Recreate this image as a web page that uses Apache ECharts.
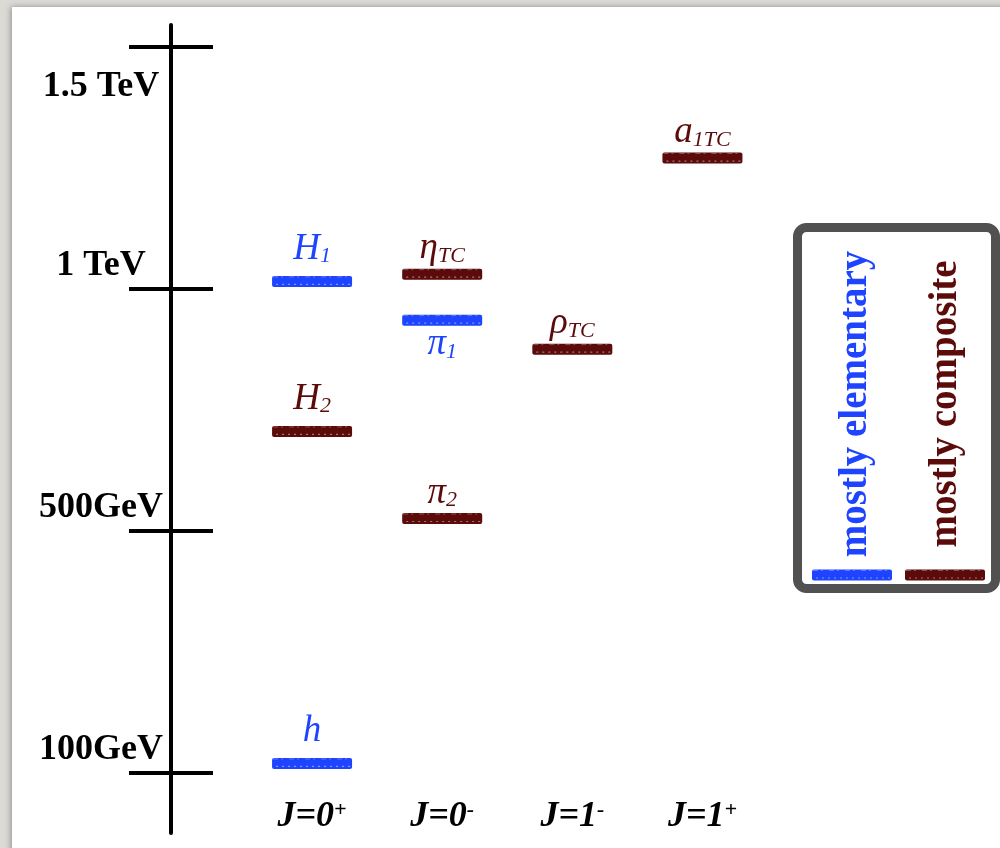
<!DOCTYPE html>
<html>
<head>
<meta charset="utf-8">
<script src="https://cdn.jsdelivr.net/npm/echarts@6/dist/echarts.min.js"></script>
<style>
html,body{margin:0;padding:0;background:#dbdad5;}
#c{width:1000px;height:848px;}
</style>
</head>
<body>
<div id="c"></div>
<script>
// ---- data ----
const categories = ['J=0+', 'J=0-', 'J=1-', 'J=1+'];
const tickMasses = [100, 500, 1000, 1500];            // GeV
const tickLabels = ['100GeV', '500GeV', '1 TeV', '1.5 TeV'];

const levelNames = ['h', 'H1', 'H2', 'ηTC', 'π1', 'π2', 'ρTC', 'a1TC'];
const levelMain  = ['h', 'H', 'H', 'η', 'π', 'π', 'ρ', 'a'];
const levelSub   = ['', '1', '2', 'TC', '1', '2', 'TC', '1TC'];
const levelSpin  = ['J=0+', 'J=0+', 'J=0+', 'J=0-', 'J=0-', 'J=0-', 'J=1-', 'J=1+'];
const levelMass  = [115, 1015, 705, 1030, 935, 525, 875, 1270];   // GeV
const levelKind  = ['elementary', 'elementary', 'composite', 'composite',
                    'elementary', 'composite', 'composite', 'composite'];

const legendKinds  = ['elementary', 'composite'];
const legendLabels = ['mostly elementary', 'mostly composite'];

// ---- styling ----
const FONT = '"Liberation Serif", "DejaVu Serif", serif';
const BLUE = '#1e44ff';
const RED = '#5c0b0b';
const kindColor = { elementary: BLUE, composite: RED };
const xHeightGlyphs = 'ηπρa';

// schematic (piecewise) mass scale: each tick is one rung
function massToRung(m) {
  const n = tickMasses.length;
  for (let i = 0; i < n - 1; i++) {
    if (m <= tickMasses[i + 1] || i === n - 2) {
      return i + (m - tickMasses[i]) / (tickMasses[i + 1] - tickMasses[i]);
    }
  }
}
const rungTicks = tickMasses.map(massToRung);

function barElements(cx, cy, color) {
  return [
    { type: 'rect', shape: { x: cx - 40, y: cy - 5.5, width: 80, height: 11, r: 2 },
      style: { fill: color } },
    { type: 'line', shape: { x1: cx - 36, y1: cy + 3, x2: cx + 38, y2: cy + 3 },
      style: { stroke: 'rgba(255,255,255,0.45)', lineWidth: 1.2, lineDash: [2, 4] } },
    { type: 'line', shape: { x1: cx - 39, y1: cy - 4.5, x2: cx + 39, y2: cy - 4.5 },
      style: { stroke: 'rgba(255,255,255,0.3)', lineWidth: 1, lineDash: [5, 3, 2, 6] } }
  ];
}

const chart = echarts.init(document.getElementById('c'), null, { renderer: 'canvas' });

const option = {
  animation: false,
  backgroundColor: 'transparent',
  grid: { left: 247, right: 232.5, top: 25, bottom: 15 },
  xAxis: {
    type: 'category',
    data: categories,
    boundaryGap: true,
    axisLine: { show: false },
    axisTick: { show: false },
    splitLine: { show: false },
    axisLabel: {
      margin: -16,
      verticalAlign: 'middle',
      formatter: v => '{b|' + v.slice(0, -1) + '}{s|' + v.slice(-1) + '}',
      rich: {
        b: { fontFamily: FONT, fontSize: 36, fontWeight: 'bold', fontStyle: 'italic', color: '#000' },
        s: { fontFamily: FONT, fontSize: 22, fontWeight: 'bold', fontStyle: 'italic', color: '#000', verticalAlign: 'top' }
      }
    }
  },
  yAxis: [
    {
      type: 'value', min: -0.25, max: 3.09, position: 'left', offset: 76,
      axisLine: { show: true, lineStyle: { color: '#000', width: 4 } },
      axisTick: { show: true, customValues: rungTicks, length: 42, lineStyle: { color: '#000', width: 4 } },
      splitLine: { show: false },
      axisLabel: {
        customValues: rungTicks,
        margin: 70,
        align: 'center',
        formatter: v => {
          const i = rungTicks.findIndex(t => Math.abs(t - v) < 1e-6);
          const lab = tickLabels[i];
          return i === tickLabels.length - 1 ? '{dn|' + lab + '}' : '{up|' + lab + '}';
        },
        rich: {
          up: { fontFamily: FONT, fontSize: 36, fontWeight: 'bold', color: '#000', padding: [0, 0, 46, 0] },
          dn: { fontFamily: FONT, fontSize: 36, fontWeight: 'bold', color: '#000', padding: [80, 0, 0, 0] }
        }
      }
    },
    {
      type: 'value', min: -0.25, max: 3.09, position: 'left', offset: 76,
      axisLine: { show: false },
      axisTick: { show: true, inside: true, customValues: rungTicks, length: 42, lineStyle: { color: '#000', width: 4 } },
      axisLabel: { show: false },
      splitLine: { show: false }
    }
  ],
  graphic: {
    elements: [
      { type: 'rect', z: -100, silent: true,
        shape: { x: 12, y: 7, width: 1000, height: 860 },
        style: { fill: '#ffffff', shadowBlur: 6, shadowColor: 'rgba(0,0,0,0.35)', shadowOffsetX: -1 } },
      { type: 'group', z: 50, children: [
        { type: 'rect', shape: { x: 797.5, y: 227.5, width: 198, height: 361, r: 9 },
          style: { fill: '#ffffff', stroke: '#515151', lineWidth: 9 } },
        ...legendKinds.flatMap((k, i) => [
          { type: 'text', x: [856, 946][i], y: 404, rotation: Math.PI / 2,
            style: { text: legendLabels[i], fill: kindColor[k], fontFamily: FONT, fontSize: 39, fontWeight: 'bold',
                     align: 'center', verticalAlign: 'middle', textAlign: 'center', textVerticalAlign: 'middle' } },
          ...barElements([852, 945][i], 575, kindColor[k])
        ])
      ]}
    ]
  },
  series: [{
    type: 'custom',
    coordinateSystem: 'cartesian2d',
    z: 5,
    data: levelNames.map((n, i) => [categories.indexOf(levelSpin[i]), massToRung(levelMass[i]), i]),
    renderItem: (params, api) => {
      const i = api.value(2);
      const p = api.coord([api.value(0), api.value(1)]);
      const color = kindColor[levelKind[i]];
      const below = levelNames[i] === 'π1';
      const gap = xHeightGlyphs.indexOf(levelMain[i]) >= 0 ? 7 : 14;
      const text = '{m|' + levelMain[i] + '}' + (levelSub[i] ? '{s|' + levelSub[i] + '}' : '');
      return {
        type: 'group',
        children: [
          ...barElements(p[0], p[1], color),
          { type: 'text', x: p[0], y: below ? p[1] + 6 : p[1] - gap,
            style: {
              text: text, align: 'center', textAlign: 'center',
              verticalAlign: below ? 'top' : 'bottom', textVerticalAlign: below ? 'top' : 'bottom',
              rich: {
                m: { fontFamily: FONT, fontSize: 37, fontStyle: 'italic', fill: color, color: color },
                s: { fontFamily: FONT, fontSize: 22, fontStyle: 'italic', fill: color, color: color, verticalAlign: 'bottom' }
              }
            } }
        ]
      };
    }
  }]
};
chart.setOption(option);
</script>
</body>
</html>
